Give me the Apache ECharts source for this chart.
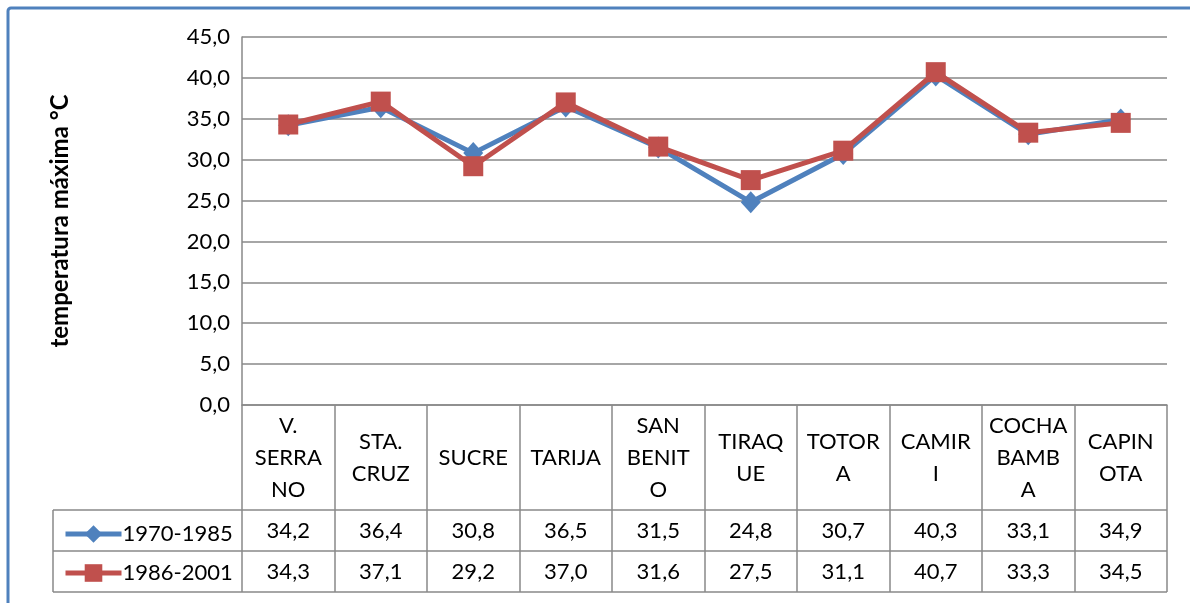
<!DOCTYPE html>
<html lang="es">
<head>
    <meta charset="UTF-8">
    <title>temperatura máxima</title>
    <script src="https://cdn.jsdelivr.net/npm/echarts@6/dist/echarts.min.js"></script>
    <style>
        html, body { margin: 0; padding: 0; background: #fff; }
    </style>
</head>
<body>
<div id="main" style="width: 1190px;height: 603px;"></div>

<script type="text/javascript">
    // datos
    var categorias = ['V.\nSERRA\nNO', 'STA.\nCRUZ', 'SUCRE', 'TARIJA', 'SAN\nBENIT\nO',
        'TIRAQ\nUE', 'TOTOR\nA', 'CAMIR\nI', 'COCHA\nBAMB\nA', 'CAPIN\nOTA'];
    var serie1 = [34.2, 36.4, 30.8, 36.5, 31.5, 24.8, 30.7, 40.3, 33.1, 34.9];
    var serie2 = [34.3, 37.1, 29.2, 37.0, 31.6, 27.5, 31.1, 40.7, 33.3, 34.5];
    var nombres = ['1970-1985', '1986-2001'];

    // layout
    var gl = 242, gr = 1167, gt = 37, gb = 405;
    var row1 = 510, row2 = 551, row3 = 592, tableLeft = 53;
    var gris = '#898989';
    var fuente = 'Lato, "Liberation Sans", sans-serif';
    var tam = 22;

    function coma(v) { return v.toFixed(1).replace('.', ','); }

    var myChart = echarts.init(document.getElementById('main'));

    function filaEje(datos, centro) {
        return {
            type: 'category',
            position: 'bottom',
            offset: centro - gb,
            data: categorias,
            axisLine: {show: false},
            axisTick: {show: false},
            splitLine: {show: false},
            axisLabel: {
                interval: 0,
                margin: 0,
                verticalAlign: 'middle',
                color: '#000',
                fontSize: tam,
                fontFamily: fuente,
                formatter: function (v, i) { return coma(datos[i]); }
            }
        };
    }

    var option = {
        animation: false,
        grid: {left: gl, right: 1190 - gr, top: gt, bottom: 603 - gb},
        legend: {
            data: nombres,
            orient: 'vertical',
            left: 58,
            top: 518,
            itemGap: 17,
            itemWidth: 56,
            itemHeight: 22,
            lineStyle: {width: 5},
            textStyle: {color: '#000', fontSize: tam, fontFamily: fuente, padding: [0, 0, 0, -4]}
        },
        xAxis: [
            {
                type: 'category',
                data: categorias,
                boundaryGap: true,
                axisLine: {lineStyle: {color: gris, width: 1.5}},
                axisTick: {show: true, interval: 0, length: row3 - gb, lineStyle: {color: gris, width: 1.5}},
                axisLabel: {
                    interval: 0,
                    margin: 53,
                    verticalAlign: 'middle',
                    color: '#000',
                    fontSize: tam,
                    lineHeight: 32,
                    fontFamily: fuente
                }
            },
            filaEje(serie1, (row1 + row2) / 2),
            filaEje(serie2, (row2 + row3) / 2)
        ],
        yAxis: {
            type: 'value',
            min: 0,
            max: 45,
            interval: 5,
            name: 'temperatura máxima °C',
            nameLocation: 'middle',
            nameRotate: 90,
            nameGap: 170,
            nameTextStyle: {color: '#000', fontSize: 24, fontWeight: 'bold', fontFamily: fuente},
            axisLine: {show: true, lineStyle: {color: gris, width: 1.5}},
            axisTick: {show: false},
            splitLine: {lineStyle: {color: gris, width: 1.5}},
            axisLabel: {
                margin: 12,
                color: '#000',
                fontSize: tam,
                fontFamily: fuente,
                formatter: function (v) { return coma(v); }
            }
        },
        series: [
            {
                name: nombres[0],
                type: 'line',
                data: serie1,
                symbol: 'diamond',
                symbolSize: [20, 22],
                lineStyle: {width: 5, color: '#4F81BD'},
                itemStyle: {color: '#4F81BD'}
            },
            {
                name: nombres[1],
                type: 'line',
                data: serie2,
                symbol: 'rect',
                symbolSize: 20,
                lineStyle: {width: 5, color: '#C0504D'},
                itemStyle: {color: '#C0504D'}
            }
        ],
        graphic: [
            // marco exterior
            {type: 'rect', shape: {x: 8, y: 8, width: 1200, height: 620, r: 3},
                style: {fill: 'none', stroke: '#4F81BD', lineWidth: 3}},
            // líneas de la tabla
            {type: 'line', shape: {x1: tableLeft, y1: row1, x2: gr, y2: row1}, style: {stroke: gris, lineWidth: 1.5}},
            {type: 'line', shape: {x1: tableLeft, y1: row2, x2: gr, y2: row2}, style: {stroke: gris, lineWidth: 1.5}},
            {type: 'line', shape: {x1: tableLeft, y1: row3, x2: gr, y2: row3}, style: {stroke: gris, lineWidth: 1.5}},
            {type: 'line', shape: {x1: tableLeft, y1: row1, x2: tableLeft, y2: row3}, style: {stroke: gris, lineWidth: 1.5}}
        ]
    };

    myChart.setOption(option);
</script>
</body>
</html>
